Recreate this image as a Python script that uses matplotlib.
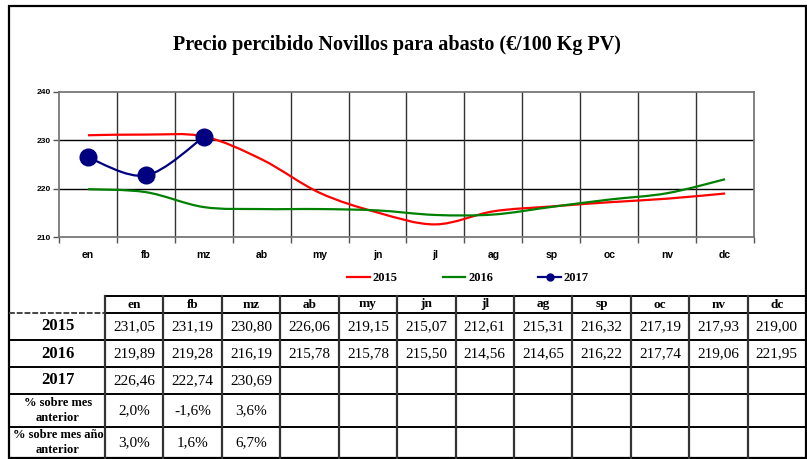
import matplotlib

matplotlib.use("Agg")
import matplotlib.pyplot as plt
import numpy as np
from matplotlib.lines import Line2D
from matplotlib.patches import PathPatch
from matplotlib.path import Path

MONTHS = ["en", "fb", "mz", "ab", "my", "jn", "jl", "ag", "sp", "oc", "nv", "dc"]
PRICES_2015 = [231.05, 231.19, 230.80, 226.06, 219.15, 215.07, 212.61, 215.31, 216.32, 217.19, 217.93, 219.00]
PRICES_2016 = [219.89, 219.28, 216.19, 215.78, 215.78, 215.50, 214.56, 214.65, 216.22, 217.74, 219.06, 221.95]
PRICES_2017 = [226.46, 222.74, 230.69]
PCT_PREV_MONTH = [2.0, -1.6, 3.6]
PCT_PREV_YEAR = [3.0, 1.6, 6.7]
Y_TICKS = [210, 220, 230, 240]

SERIF = "Liberation Serif"
SANS = "Liberation Sans"
W, H = 807, 459


def smooth_path(xs, ys):
    # Bezier segments through every point, like a spreadsheet "smoothed line"
    pts = np.column_stack([xs, ys]).astype(float)
    n = len(pts)
    verts = [pts[0]]
    codes = [Path.MOVETO]
    for i in range(n - 1):
        p_prev = pts[max(i - 1, 0)]
        p0, p1 = pts[i], pts[i + 1]
        p_next = pts[min(i + 2, n - 1)]
        c1 = p0 + (p1 - p_prev) / 6.0
        c2 = p1 - (p_next - p0) / 6.0
        verts += [c1, c2, p1]
        codes += [Path.CURVE4] * 3
    return Path(verts, codes)


def fmt(v, dec=2):
    return f"{v:.{dec}f}".replace(".", ",")


def px(x, y):
    return x / W, 1 - y / H


fig = plt.figure(figsize=(W / 100, H / 100), dpi=100)

# outer frame + table drawn on a full-figure overlay in pixel units
bg = fig.add_axes([0, 0, 1, 1])
bg.set_xlim(0, W)
bg.set_ylim(H, 0)
bg.axis("off")
bg.add_patch(plt.Rectangle((9, 6), 797, 452, fill=False, lw=1.6, ec="black"))

# chart
ax = fig.add_axes([59 / W, 1 - 237 / H, 695 / W, 145 / H])
x = np.arange(len(MONTHS))
for vals, color in [(PRICES_2015, "#ff0000"), (PRICES_2016, "#008000"), (PRICES_2017, "#000080")]:
    ax.add_patch(PathPatch(smooth_path(x[: len(vals)], vals), fill=False, ec=color, lw=1.6, zorder=3))
ax.plot(x[: len(PRICES_2017)], PRICES_2017, ls="none", marker="o", ms=12, color="#000080", zorder=4)

ax.set_xlim(-0.5, len(MONTHS) - 0.5)
ax.set_ylim(210, 240)
ax.set_yticks(Y_TICKS)
ax.set_yticklabels([str(t) for t in Y_TICKS], fontsize=6, fontweight="bold", family=SANS)
ax.set_xticks(x)
ax.set_xticklabels(MONTHS, fontsize=7.5, fontweight="bold", family=SANS)
ax.tick_params(axis="x", which="major", length=0, pad=9)
ax.set_xticks(np.arange(-0.5, len(MONTHS), 1), minor=True)
ax.tick_params(axis="x", which="minor", length=4, width=1, color="#555555")
ax.tick_params(axis="y", length=4, width=1, color="#555555", pad=2)
for y in (220, 230):
    ax.axhline(y, color="black", lw=1, zorder=1)
for b in np.arange(0.5, len(MONTHS) - 1, 1):
    ax.axvline(b, color="#333333", lw=1, zorder=1)
for s in ax.spines.values():
    s.set_color("#777777")
    s.set_linewidth(1.3)

fig.text(*px(397, 45), "Precio percibido Novillos para abasto (€/100 Kg PV)",
         ha="center", va="center", family=SERIF, fontweight="bold", fontsize=14.5)

handles = [
    Line2D([], [], color="#ff0000", lw=1.6),
    Line2D([], [], color="#008000", lw=1.6),
    Line2D([], [], color="#000080", lw=1.6, marker="o", ms=5),
]
fig.legend(handles, ["2015", "2016", "2017"], loc="center", bbox_to_anchor=px(468, 278),
           ncol=3, frameon=False, handlelength=1.8, handletextpad=0.25, columnspacing=3.6,
           prop={"family": SERIF, "weight": "bold", "size": 9})

# table
row_edges = [296, 313, 340, 367, 394, 427, 458]
col0_left, col0_right, right = 9, 105, 806
col_w = (right - col0_right) / len(MONTHS)
col_edges = [col0_right + i * col_w for i in range(len(MONTHS) + 1)]

bg.plot([col0_right, right], [row_edges[0]] * 2, color="black", lw=1.4)
bg.plot([col0_left, col0_right], [row_edges[1]] * 2, color="#444444", lw=1.4, ls=(0, (3, 1)))
bg.plot([col0_right, right], [row_edges[1]] * 2, color="black", lw=1.4)
for yy in row_edges[2:-1]:
    bg.plot([col0_left, right], [yy] * 2, color="black", lw=1.4)
for xx in col_edges[:-1]:
    bg.plot([xx, xx], [row_edges[0], row_edges[-1]], color="#333333", lw=1.6)


def cell_center(r, c):
    y = (row_edges[r] + row_edges[r + 1]) / 2
    if c < 0:
        return (col0_left + col0_right) / 2 + 1, y
    return (col_edges[c] + col_edges[c + 1]) / 2, y


for c, m in enumerate(MONTHS):
    bg.text(*cell_center(0, c), m, ha="center", va="center", family=SERIF, fontweight="bold", fontsize=9.5)

row_labels = ["2015", "2016", "2017", "% sobre mes\nanterior", "% sobre mes año\nanterior"]
for r, lab in enumerate(row_labels, start=1):
    big = r <= 3
    bg.text(*cell_center(r, -1), lab, ha="center", va="center", family=SERIF, fontweight="bold",
            fontsize=12 if big else 9, linespacing=1.35)

for r, vals in enumerate([PRICES_2015, PRICES_2016, PRICES_2017], start=1):
    for c, v in enumerate(vals):
        bg.text(*cell_center(r, c), fmt(v), ha="center", va="center", family=SERIF, fontsize=11)
for r, vals in enumerate([PCT_PREV_MONTH, PCT_PREV_YEAR], start=4):
    for c, v in enumerate(vals):
        bg.text(*cell_center(r, c), fmt(v, 1) + "%", ha="center", va="center", family=SERIF, fontsize=11)

fig.savefig("out.png", dpi=100)
